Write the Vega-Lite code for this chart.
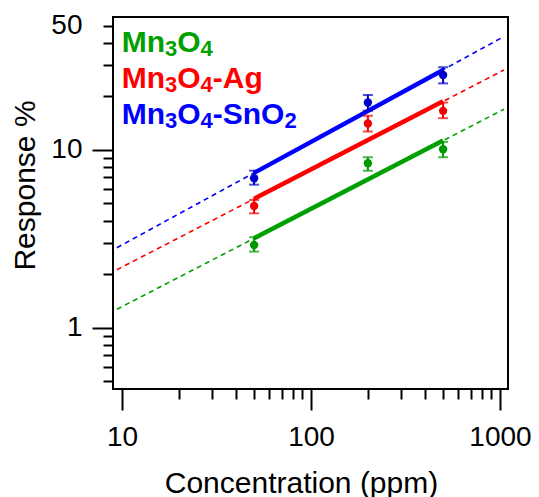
{
  "$schema": "https://vega.github.io/schema/vega-lite/v6.json",
  "autosize": "none",
  "padding": {"left": 113, "top": 17, "right": 31, "bottom": 108},
  "width": 395,
  "height": 372,
  "background": "white",
  "config": {
    "view": {"stroke": "black", "strokeWidth": 2},
    "axis": {
      "domain": false, "grid": false, "tickColor": "black", "tickWidth": 2,
      "labelFont": "Liberation Sans", "labelFontSize": 28, "labelColor": "black",
      "titleFont": "Liberation Sans", "titleFontSize": 30, "titleColor": "black", "titleFontWeight": "normal"
    },
    "text": {"font": "Liberation Sans", "fontWeight": "bold", "align": "left", "baseline": "alphabetic"}
  },
  "datasets": {
    "points": [
      {"series": "Mn3O4", "conc": 50, "resp": 2.92, "lo": 2.68, "hi": 3.23},
      {"series": "Mn3O4", "conc": 200, "resp": 8.42, "lo": 7.65, "hi": 9.1},
      {"series": "Mn3O4", "conc": 500, "resp": 10.1, "lo": 9.1, "hi": 11.1},
      {"series": "Mn3O4-Ag", "conc": 50, "resp": 4.84, "lo": 4.4, "hi": 5.23},
      {"series": "Mn3O4-Ag", "conc": 200, "resp": 14.1, "lo": 12.7, "hi": 15.6},
      {"series": "Mn3O4-Ag", "conc": 500, "resp": 16.6, "lo": 15.1, "hi": 18.5},
      {"series": "Mn3O4-SnO2", "conc": 50, "resp": 6.93, "lo": 6.38, "hi": 7.65},
      {"series": "Mn3O4-SnO2", "conc": 200, "resp": 18.5, "lo": 16.6, "hi": 20.4},
      {"series": "Mn3O4-SnO2", "conc": 500, "resp": 26.4, "lo": 23.7, "hi": 29.2}
    ],
    "dashfit": [
      {"series": "Mn3O4", "conc": 9.4, "resp": 1.27},
      {"series": "Mn3O4", "conc": 1050, "resp": 16.96},
      {"series": "Mn3O4-Ag", "conc": 9.4, "resp": 2.12},
      {"series": "Mn3O4-Ag", "conc": 1050, "resp": 28.2},
      {"series": "Mn3O4-SnO2", "conc": 9.4, "resp": 2.82},
      {"series": "Mn3O4-SnO2", "conc": 1050, "resp": 43.5}
    ],
    "solidfit": [
      {"series": "Mn3O4", "conc": 50, "resp": 3.19},
      {"series": "Mn3O4", "conc": 500, "resp": 11.3},
      {"series": "Mn3O4-Ag", "conc": 50, "resp": 5.31},
      {"series": "Mn3O4-Ag", "conc": 500, "resp": 18.8},
      {"series": "Mn3O4-SnO2", "conc": 50, "resp": 7.43},
      {"series": "Mn3O4-SnO2", "conc": 500, "resp": 28.2}
    ],
    "legend": [
      {"series": "Mn3O4", "conc": 9.97, "resp": 35.6, "t1": "Mn", "s1": "3", "t2": "O", "s2": "4", "t3": "", "s3": ""},
      {"series": "Mn3O4-Ag", "conc": 9.97, "resp": 22.3, "t1": "Mn", "s1": "3", "t2": "O", "s2": "4", "t3": "-Ag", "s3": ""},
      {"series": "Mn3O4-SnO2", "conc": 9.97, "resp": 14.0, "t1": "Mn", "s1": "3", "t2": "O", "s2": "4", "t3": "-SnO", "s3": "2"}
    ]
  },
  "resolve": {"axis": {"x": "independent", "y": "independent"}, "scale": {"color": "independent"}},
  "layer": [
    {
      "data": {"name": "dashfit"},
      "mark": {"type": "line", "strokeWidth": 1.6, "strokeDash": [5, 4], "clip": true},
      "encoding": {
        "x": {"field": "conc", "type": "quantitative",
              "scale": {"type": "log", "domain": [8.96, 1102.5], "nice": false},
              "axis": {"orient": "bottom", "values": [10, 100, 1000], "tickSize": 21, "labelPadding": 13, "format": "d",
                       "title": "Concentration (ppm)", "titleX": 188, "titleY": 103, "titleBaseline": "alphabetic", "titleAnchor": null}},
        "y": {"field": "resp", "type": "quantitative",
              "scale": {"type": "log", "domain": [0.4519, 56.0], "nice": false},
              "axis": {"orient": "left", "values": [1, 10], "tickSize": 21, "labelPadding": 10, "format": "d",
                       "title": "Response %", "titleX": -79, "titleY": 168, "titleAngle": -90, "titleBaseline": "alphabetic", "titleAlign": "center"}},
        "detail": {"field": "series"},
        "color": {"field": "series", "type": "nominal", "legend": null,
                  "scale": {"domain": ["Mn3O4", "Mn3O4-Ag", "Mn3O4-SnO2"], "range": ["#00A000", "#FF0000", "#0000FF"]}}
      }
    },
    {
      "data": {"name": "solidfit"},
      "mark": {"type": "line", "strokeWidth": 4.5},
      "encoding": {
        "x": {"field": "conc", "type": "quantitative",
              "axis": {"orient": "bottom", "values": [20, 30, 40, 50, 60, 70, 80, 90, 200, 300, 400, 500, 600, 700, 800, 900], "tickSize": 10, "labels": false, "title": null}},
        "y": {"field": "resp", "type": "quantitative",
              "axis": {"orient": "left", "values": [0.5, 0.6, 0.7, 0.8, 0.9, 2, 3, 4, 5, 6, 7, 8, 9, 20, 30, 40, 50], "tickSize": 10, "labelPadding": 21,
                       "labelExpr": "datum.value == 50 ? '50' : ''", "title": null}},
        "detail": {"field": "series"},
        "color": {"field": "series", "type": "nominal", "legend": null,
                  "scale": {"domain": ["Mn3O4", "Mn3O4-Ag", "Mn3O4-SnO2"], "range": ["#00A000", "#FF0000", "#0000FF"]}}
      }
    },
    {
      "data": {"name": "points"},
      "mark": {"type": "rule", "strokeWidth": 2},
      "encoding": {
        "x": {"field": "conc", "type": "quantitative", "axis": null},
        "y": {"field": "lo", "type": "quantitative", "axis": null},
        "y2": {"field": "hi"},
        "color": {"field": "series", "type": "nominal", "legend": null,
                  "scale": {"domain": ["Mn3O4", "Mn3O4-Ag", "Mn3O4-SnO2"], "range": ["#009A00", "#F00000", "#0000CC"]}}
      }
    },
    {
      "data": {"name": "points"},
      "mark": {"type": "tick", "orient": "horizontal", "size": 10, "thickness": 2},
      "encoding": {
        "x": {"field": "conc", "type": "quantitative", "axis": null},
        "y": {"field": "lo", "type": "quantitative", "axis": null},
        "color": {"field": "series", "type": "nominal", "legend": null,
                  "scale": {"domain": ["Mn3O4", "Mn3O4-Ag", "Mn3O4-SnO2"], "range": ["#009A00", "#F00000", "#0000CC"]}}
      }
    },
    {
      "data": {"name": "points"},
      "mark": {"type": "tick", "orient": "horizontal", "size": 10, "thickness": 2},
      "encoding": {
        "x": {"field": "conc", "type": "quantitative", "axis": null},
        "y": {"field": "hi", "type": "quantitative", "axis": null},
        "color": {"field": "series", "type": "nominal", "legend": null,
                  "scale": {"domain": ["Mn3O4", "Mn3O4-Ag", "Mn3O4-SnO2"], "range": ["#009A00", "#F00000", "#0000CC"]}}
      }
    },
    {
      "data": {"name": "points"},
      "mark": {"type": "circle", "size": 70, "opacity": 1},
      "encoding": {
        "x": {"field": "conc", "type": "quantitative", "axis": null},
        "y": {"field": "resp", "type": "quantitative", "axis": null},
        "color": {"field": "series", "type": "nominal", "legend": null,
                  "scale": {"domain": ["Mn3O4", "Mn3O4-Ag", "Mn3O4-SnO2"], "range": ["#009A00", "#F00000", "#0000CC"]}}
      }
    },
    {
      "data": {"name": "legend"},
      "layer": [
        {"mark": {"type": "text", "fontSize": 30, "dx": 0}, "encoding": {"text": {"field": "t1"}}},
        {"mark": {"type": "text", "fontSize": 22, "dx": 43.3, "dy": 4}, "encoding": {"text": {"field": "s1"}}},
        {"mark": {"type": "text", "fontSize": 30, "dx": 55.5}, "encoding": {"text": {"field": "t2"}}},
        {"mark": {"type": "text", "fontSize": 22, "dx": 78.8, "dy": 4}, "encoding": {"text": {"field": "s2"}}},
        {"mark": {"type": "text", "fontSize": 30, "dx": 91}, "encoding": {"text": {"field": "t3"}}},
        {"mark": {"type": "text", "fontSize": 22, "dx": 162.7, "dy": 4}, "encoding": {"text": {"field": "s3"}}}
      ],
      "encoding": {
        "x": {"field": "conc", "type": "quantitative", "axis": null},
        "y": {"field": "resp", "type": "quantitative", "axis": null},
        "color": {"field": "series", "type": "nominal", "legend": null,
                  "scale": {"domain": ["Mn3O4", "Mn3O4-Ag", "Mn3O4-SnO2"], "range": ["#00A000", "#FF0000", "#0000FF"]}}
      }
    }
  ]
}
